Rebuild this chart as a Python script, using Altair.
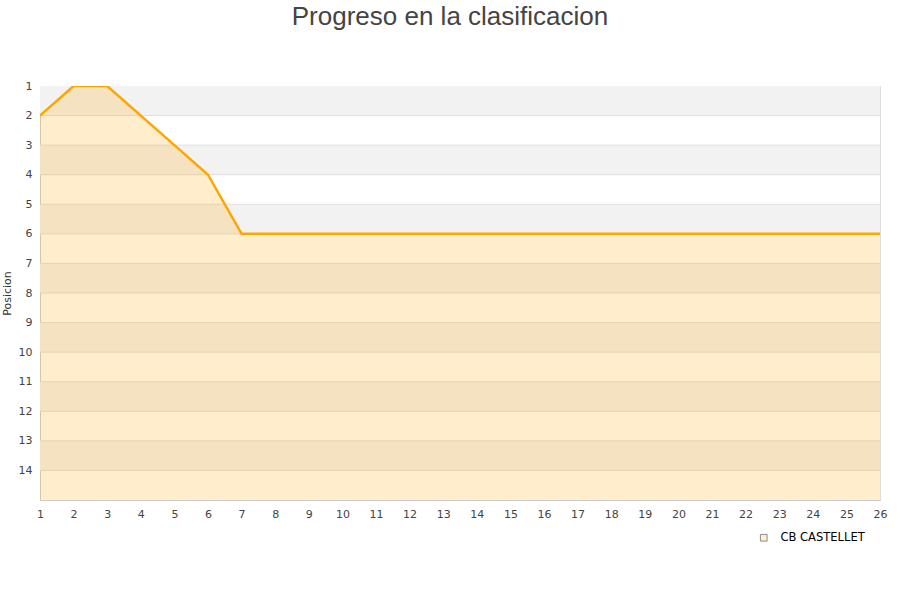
import altair as alt
import pandas as pd

# Matchday (jornada) and league position of the team
jornadas = list(range(1, 27))
posiciones = [2, 1, 1, 2, 3, 4] + [6] * 20
equipo = "CB CASTELLET"

# Alternating background bands between integer positions
banda_ini = [1, 3, 5, 7, 9, 11, 13]
banda_fin = [2, 4, 6, 8, 10, 12, 14]
lineas = list(range(2, 15))
etiquetas_y = list(range(1, 15))

df = pd.DataFrame({"jornada": jornadas, "pos": posiciones, "equipo": equipo, "fondo": 15})
bands = pd.DataFrame({"y0": banda_ini, "y1": banda_fin})
grid = pd.DataFrame({"y": lineas})

x_scale = alt.Scale(domain=[1, 26], nice=False, zero=False)
y_scale = alt.Scale(domain=[1, 15], reverse=True, nice=False, zero=False)

band_layer = alt.Chart(bands).mark_rect(color="#f2f2f2").encode(
    y=alt.Y("y0:Q", scale=y_scale,
            axis=alt.Axis(title="Posicion", values=etiquetas_y,
                          tickCount=len(etiquetas_y), grid=False,
                          ticks=False, domain=True, labelOverlap=False,
                          domainColor="#cccccc", labelColor="#444444",
                          labelFontSize=11, labelPadding=8, titleFontSize=11,
                          titleFontWeight="normal", titleColor="#333333",
                          titlePadding=6, labelFont="DejaVu Sans",
                          titleFont="DejaVu Sans")),
    y2="y1:Q",
    x=alt.value(0),
    x2=alt.value(840),
)

grid_layer = alt.Chart(grid).mark_rule(color="#dedede", strokeWidth=1).encode(
    y=alt.Y("y:Q", scale=y_scale),
    x=alt.value(0),
    x2=alt.value(840),
)

area_layer = alt.Chart(df).mark_area(color="#ffa500", opacity=0.2, clip=True).encode(
    x=alt.X("jornada:Q", scale=x_scale,
            axis=alt.Axis(title=None, values=jornadas, tickCount=len(jornadas),
                          grid=False, ticks=False,
                          labelOverlap=False, labelBound=False, labelFlush=False,
                          domainColor="#cccccc", labelColor="#444444",
                          labelFontSize=11, labelPadding=8, labelFont="DejaVu Sans")),
    y=alt.Y("pos:Q", scale=y_scale),
    y2="fondo:Q",
)

line_layer = alt.Chart(df).mark_line(color="#ffa500", strokeWidth=2.5, clip=True).encode(
    x=alt.X("jornada:Q", scale=x_scale),
    y=alt.Y("pos:Q", scale=y_scale),
)

# Series key: square swatch in the area's tint with a grey outline
key_layer = alt.Chart(df).mark_square(
    filled=True, stroke="#8c8c8c", strokeWidth=1, opacity=1
).encode(
    x=alt.X("jornada:Q", scale=x_scale),
    y=alt.Y("pos:Q", scale=y_scale),
    color=alt.Color("equipo:N",
                    scale=alt.Scale(domain=[equipo], range=["#ffedcc"]),
                    legend=alt.Legend(title=None, orient="none", legendX=718,
                                      legendY=446, symbolType="square",
                                      symbolSize=45,
                                      symbolStrokeColor="#8c8c8c",
                                      symbolStrokeWidth=1, labelFontSize=11.5,
                                      labelOffset=11, labelColor="#000000",
                                      labelFont="DejaVu Sans")),
).transform_filter("false")

chart = alt.layer(band_layer, grid_layer, area_layer, line_layer, key_layer).properties(
    width=840,
    height=414,
    title=alt.TitleParams("Progreso en la clasificacion", fontSize=26,
                          font="Liberation Sans", fontWeight="normal",
                          color="#444444", anchor="middle", dx=-10, offset=50),
    padding={"left": 40, "top": 86, "right": 20, "bottom": 100},
    autosize="none",
).configure_view(stroke="#dddddd")

chart.save("out.html", embed_options={"renderer": "svg", "actions": False})
